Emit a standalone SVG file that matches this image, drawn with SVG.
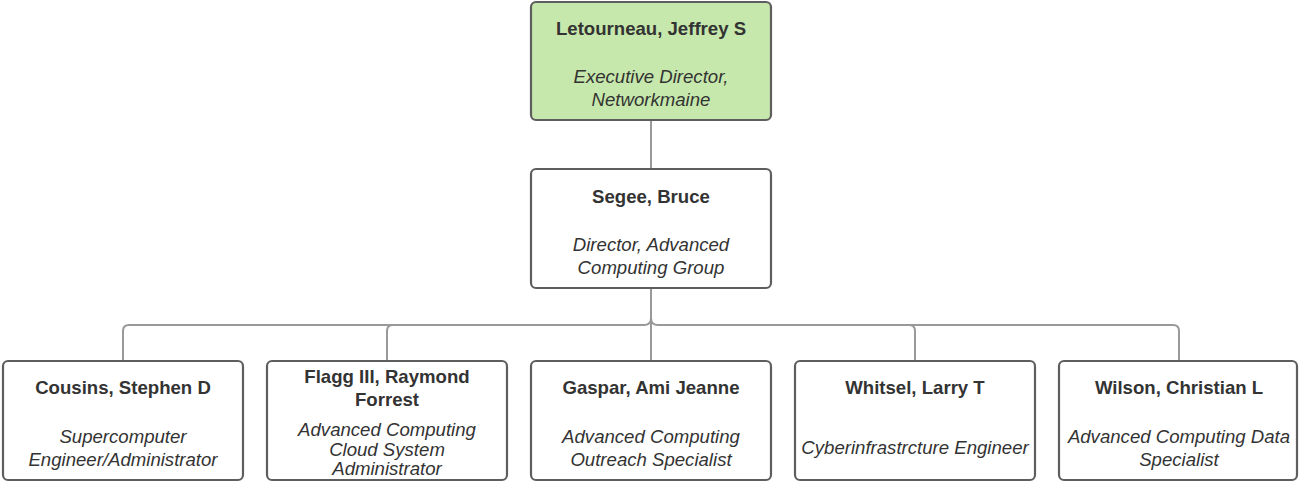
<svg xmlns="http://www.w3.org/2000/svg" width="1299" height="482" viewBox="0 0 1299 482">
<style>
.box{fill:#ffffff;stroke:#5e5e5e;stroke-width:2.2}
.green{fill:#c7e8ac}
.name{font-family:"Liberation Sans",Arial,sans-serif;font-weight:bold;font-size:18.6px;fill:#333333;text-anchor:middle}
.title{font-family:"Liberation Sans",Arial,sans-serif;font-style:italic;font-size:18.6px;fill:#333333;text-anchor:middle}
.conn{fill:none;stroke:#999999;stroke-width:2}
</style>
<rect width="1299" height="482" fill="#ffffff"/>
<g id="connectors">
<path class="conn" d="M651 121 V169"/>
<path class="conn" d="M651 289 V361"/>
<path class="conn" d="M651 318 Q651 325 644 325 H129 Q123 325 123 331 V361"/>
<path class="conn" d="M651 318 Q651 325 658 325 H1173 Q1179 325 1179 331 V361"/>
<path class="conn" d="M387 361 V331 Q387 325 393 325"/>
<path class="conn" d="M915 361 V331 Q915 325 909 325"/>
</g>
<g id="n-letourneau">
<rect class="box green" x="531" y="2" width="240" height="118" rx="5"/>
<text class="name" x="651" y="35">Letourneau, Jeffrey S</text>
<text class="title" x="651" y="83">Executive Director,</text>
<text class="title" x="651" y="106">Networkmaine</text>
</g>
<g id="n-segee">
<rect class="box" x="531" y="169" width="240" height="119" rx="5"/>
<text class="name" x="651" y="203">Segee, Bruce</text>
<text class="title" x="651" y="251">Director, Advanced</text>
<text class="title" x="651" y="274">Computing Group</text>
</g>
<g id="n-cousins">
<rect class="box" x="3" y="361" width="240" height="119" rx="5"/>
<text class="name" x="123" y="394">Cousins, Stephen D</text>
<text class="title" x="123" y="443">Supercomputer</text>
<text class="title" x="123" y="466">Engineer/Administrator</text>
</g>
<g id="n-flagg">
<rect class="box" x="267" y="361" width="240" height="119" rx="5"/>
<text class="name" x="387" y="383">Flagg III, Raymond</text>
<text class="name" x="387" y="406">Forrest</text>
<text class="title" x="387" y="436">Advanced Computing</text>
<text class="title" x="387" y="456">Cloud System</text>
<text class="title" x="387" y="475">Administrator</text>
</g>
<g id="n-gaspar">
<rect class="box" x="531" y="361" width="240" height="119" rx="5"/>
<text class="name" x="651" y="394">Gaspar, Ami Jeanne</text>
<text class="title" x="651" y="443">Advanced Computing</text>
<text class="title" x="651" y="466">Outreach Specialist</text>
</g>
<g id="n-whitsel">
<rect class="box" x="795" y="361" width="240" height="119" rx="5"/>
<text class="name" x="915" y="394">Whitsel, Larry T</text>
<text class="title" x="915" y="454">Cyberinfrastrcture Engineer</text>
</g>
<g id="n-wilson">
<rect class="box" x="1059" y="361" width="238" height="119" rx="5"/>
<text class="name" x="1179" y="394">Wilson, Christian L</text>
<text class="title" x="1179" y="443">Advanced Computing Data</text>
<text class="title" x="1179" y="466">Specialist</text>
</g>
</svg>
